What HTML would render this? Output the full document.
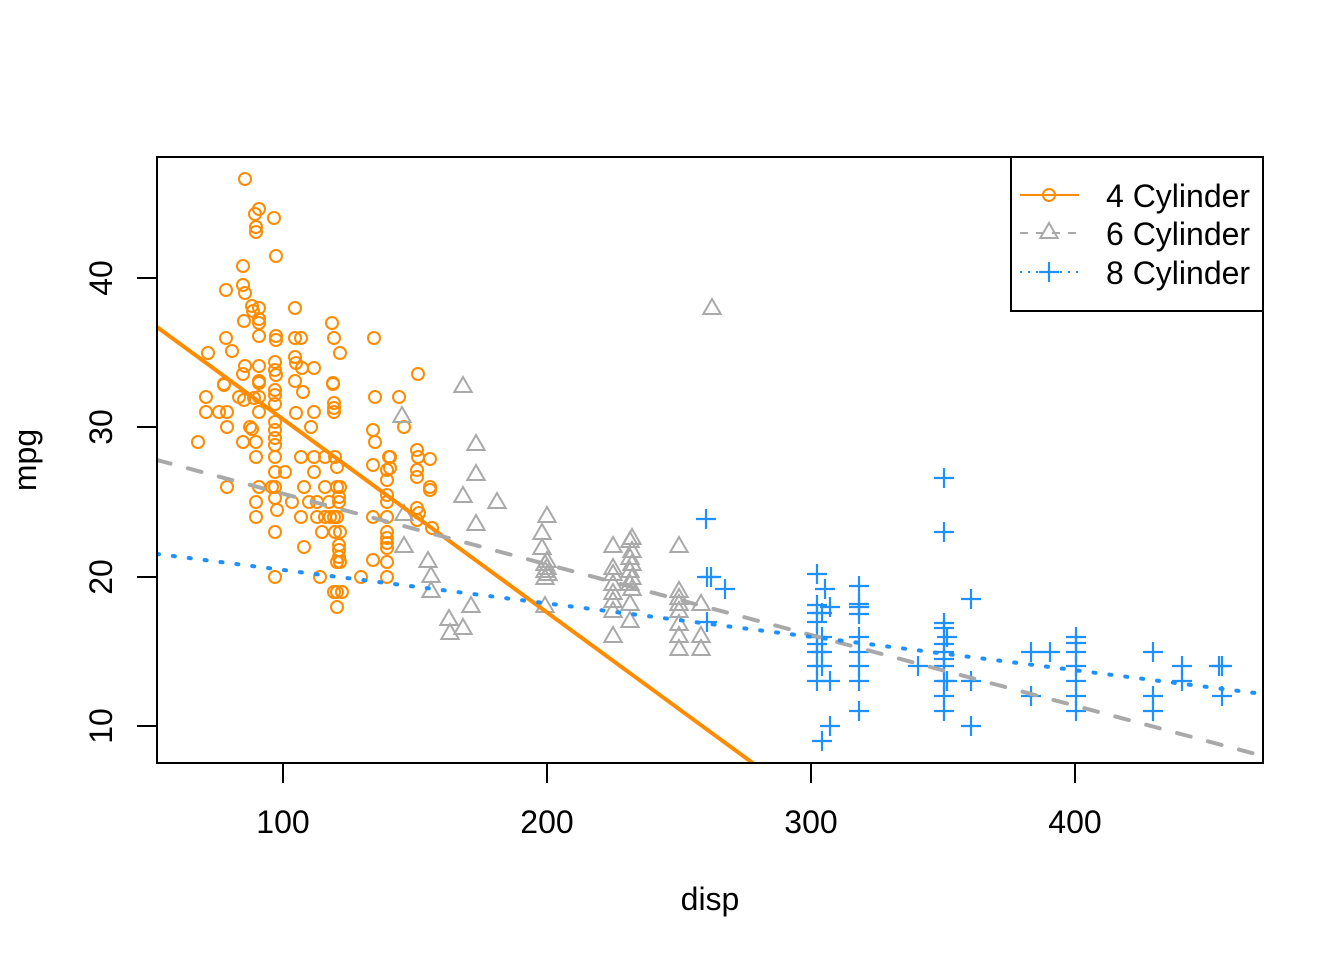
<!DOCTYPE html>
<html><head><meta charset="utf-8"><style>
html,body{margin:0;padding:0;background:#fff;}
svg{display:block;font-family:"Liberation Sans",Arial,sans-serif;}
</style></head><body>
<svg width="1344" height="960" viewBox="0 0 1344 960" xmlns="http://www.w3.org/2000/svg">
<defs>
<clipPath id="pc"><rect x="157" y="157" width="1106" height="606"/></clipPath>
</defs>
<rect width="1344" height="960" fill="#fff"/>
<g id="orange" fill="none" stroke="#FF8C00" stroke-width="2">
</g>
<g id="gray" fill="none" stroke="#A9A9A9" stroke-width="2" stroke-linejoin="miter">
</g>
<g id="blue" fill="none" stroke="#1E90FF" stroke-width="2.2">
</g>
<script>
(function(){
var NS="http://www.w3.org/2000/svg";
var O=[[245,179],[259,209],[255,214],[274,218],[256,227],[256,232],[276,256],[243,266],[243,285],[226,290],[245,293],[252,306],[259,308],[295,308],[253,311],[244,321],[259,319],[259,323],[332,323],[226,338],[259,336],[276,336],[276,340],[295,338],[301,338],[334,338],[374,338],[208,353],[232,351],[340,353],[245,366],[259,366],[243,374],[275,362],[275,370],[276,375],[295,357],[296,363],[302,368],[314,368],[259,381],[295,381],[333,383],[418,374],[224,384],
[224,385],[259,383],[275,390],[275,395],[303,392],[333,384],[206,397],[206,412],[239,397],[244,400],[254,398],[259,397],[275,404],[219,412],[227,412],[259,412],[296,413],[314,412],[334,403],[334,408],[334,412],[375,397],[399,397],[227,427],[250,427],[252,429],[275,422],[275,430],[275,438],[275,445],[311,427],[373,430],[375,442],[404,427],[198,442],[243,442],[256,442],[256,457],[275,457],[301,457],[314,457],[325,457],[335,457],[337,467],[373,465],[389,457],[390,457],[387,470],[390,468],[387,480],[417,450],[418,457],[430,459],[417,470],[417,477],[430,487],[430,490],[275,472],[285,472],[314,472],[227,487],[259,487],[272,487],[275,487],[304,487],[325,487],[337,487],[340,487],[256,502],[275,498],[277,510],[292,502],[309,502],[317,502],[329,502],[339,497],[339,502],[387,495],[387,502],[417,508],[419,513],[256,517],[301,517],[317,517],[325,517],[330,517],[334,517],[337,517],[373,517],[387,517],[417,520],[432,528],[275,532],[322,532],[335,532],[340,532],[387,532],[387,538],[387,543],[387,548],[304,547],[339,545],[339,550],[339,557],[337,562],[340,562],[373,560],[387,562],[275,577],[320,577],[361,577],[387,577],[334,592],[337,592],[342,592],[337,607]];
var T=[[463,385],[402,415],[476,443],[476,473],[463,495],[497,501],[476,523],[404,513],[404,545],[428,560],[431,575],[431,590],[471,605],[449,618],[450,632],[463,627],[547,515],[542,532],[542,547],[547,560],[545,563],[547,567],[545,570],[548,573],[545,577],[545,605],[613,545],[613,567],[613,573],[613,583],[613,592],[613,600],[613,610],[613,635],[632,537],[630,540],[632,550],[630,557],[632,563],[630,570],[632,577],[630,583],[632,588],[630,603],[630,620],[679,545],[679,590],[679,597],[679,603],[679,610],[679,623],[679,635],[679,648],[701,603],[701,635],[701,648],[712,307]];
var P=[[944,478],[944,532],[817,574],[825,589],[859,586],[830,607],[817,605],[817,613],[817,622],[822,613],[859,604],[859,607],[859,614],[971,599],[817,637],[817,644],[817,652],[817,666],[817,681],[822,637],[822,652],[822,666],[830,681],[859,637],[859,652],[859,666],[859,681],[859,711],[918,666],[944,623],[944,628],[947,637],[944,644],[944,652],[944,659],[944,666],[944,681],[944,696],[944,711],[947,681],[971,681],[971,726],[830,726],[822,741],[1031,652],[1050,652],[1031,696],[1076,637],[1076,643],[1076,652],[1076,666],[1076,681],[1076,696],[1076,711],[1153,652],[1153,696],[1153,711],[1182,666],[1182,681],[1219,666],[1222,666],[1222,696],[706,519],[707,577],[711,577],[725,589],[707,622]];
var go=document.getElementById("orange"),gg=document.getElementById("gray"),gb=document.getElementById("blue");
O.forEach(function(p){var c=document.createElementNS(NS,"circle");c.setAttribute("cx",p[0]);c.setAttribute("cy",p[1]);c.setAttribute("r","6");go.appendChild(c);});
T.forEach(function(p){var x=p[0],y=p[1]+2;var c=document.createElementNS(NS,"polygon");c.setAttribute("points",x+","+(y-10)+" "+(x+8.66)+","+(y+5)+" "+(x-8.66)+","+(y+5));gg.appendChild(c);});
P.forEach(function(p){var x=p[0],y=p[1];var c=document.createElementNS(NS,"path");c.setAttribute("d","M"+(x-10)+" "+y+"H"+(x+10)+"M"+x+" "+(y-10)+"V"+(y+10));gb.appendChild(c);});
})();
</script>
<g clip-path="url(#pc)" fill="none">
<line x1="157" y1="327" x2="760" y2="768.3" stroke="#FF8C00" stroke-width="4" stroke-linecap="round"/>
<line x1="157" y1="460" x2="1263" y2="756" stroke="#A9A9A9" stroke-width="4" stroke-dasharray="14 18" stroke-linecap="round"/>
<line x1="157" y1="554" x2="1263" y2="694" stroke="#1E90FF" stroke-width="4" stroke-dasharray="2 14" stroke-linecap="round"/>
</g>
<rect x="157" y="157" width="1106" height="606" fill="none" stroke="#000" stroke-width="2"/>
<g stroke="#000" stroke-width="2">
<line x1="283" y1="763" x2="283" y2="783"/>
<line x1="547" y1="763" x2="547" y2="783"/>
<line x1="811" y1="763" x2="811" y2="783"/>
<line x1="1075" y1="763" x2="1075" y2="783"/>
<line x1="137" y1="278" x2="157" y2="278"/>
<line x1="137" y1="427" x2="157" y2="427"/>
<line x1="137" y1="577" x2="157" y2="577"/>
<line x1="137" y1="726" x2="157" y2="726"/>
</g>
<g font-size="32" fill="#000" text-anchor="middle">
<text x="283" y="833">100</text>
<text x="547" y="833">200</text>
<text x="811" y="833">300</text>
<text x="1075" y="833">400</text>
<text transform="translate(112,278) rotate(-90)">40</text>
<text transform="translate(112,427) rotate(-90)">30</text>
<text transform="translate(112,577) rotate(-90)">20</text>
<text transform="translate(112,726) rotate(-90)">10</text>
<text x="710" y="910">disp</text>
<text transform="translate(36,460) rotate(-90)">mpg</text>
</g>
<rect x="1011" y="157" width="252" height="154" fill="#fff" stroke="#000" stroke-width="2"/>
<line x1="1020" y1="195" x2="1079" y2="195" stroke="#FF8C00" stroke-width="2"/>
<circle cx="1049" cy="195" r="6" fill="none" stroke="#FF8C00" stroke-width="2"/>
<line x1="1020" y1="233" x2="1079" y2="233" stroke="#A9A9A9" stroke-width="2" stroke-dasharray="8 8"/>
<polygon points="1049,223 1057.66,238 1040.34,238" fill="none" stroke="#A9A9A9" stroke-width="2"/>
<line x1="1020" y1="272" x2="1079" y2="272" stroke="#1E90FF" stroke-width="2" stroke-dasharray="2 6"/>
<path d="M1039 272H1059M1049 262V282" stroke="#1E90FF" stroke-width="2.2" fill="none"/>
<g font-size="32" fill="#000">
<text x="1106" y="207">4 Cylinder</text>
<text x="1106" y="245">6 Cylinder</text>
<text x="1106" y="284">8 Cylinder</text>
</g>
</svg>
</body></html>
